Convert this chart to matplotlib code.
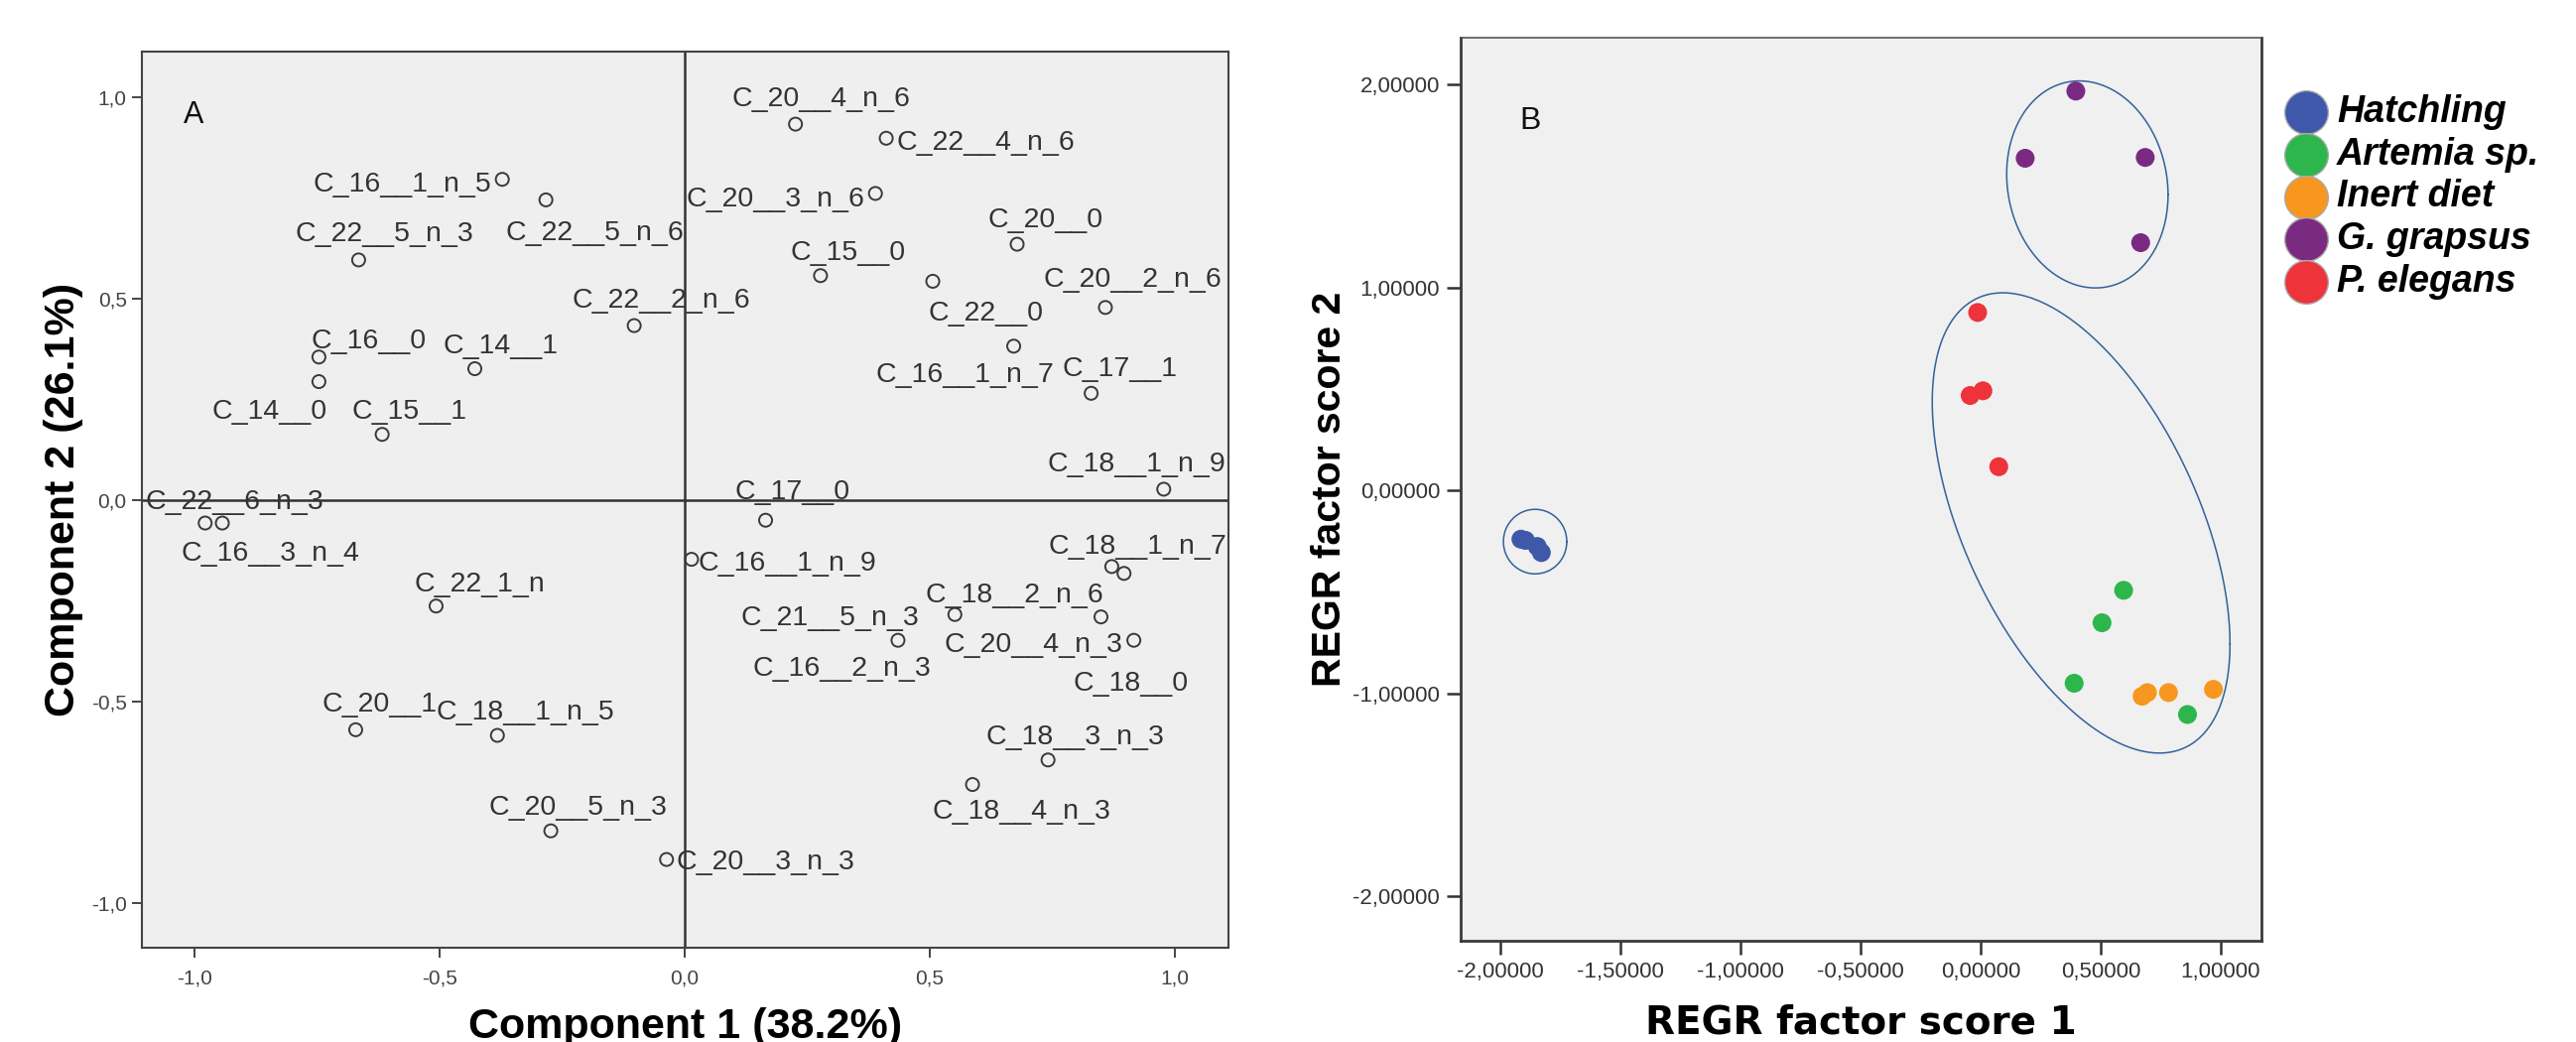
import numpy as np
import matplotlib
matplotlib.use("Agg")
import matplotlib.pyplot as plt
from matplotlib.ticker import FixedLocator, FuncFormatter
from matplotlib.font_manager import FontProperties

# ---- panel A: component loadings ----
names = ["C_16__1_n_5", "C_22__5_n_6", "C_22__5_n_3", "C_22__2_n_6", "C_16__0",
         "C_14__0", "C_14__1", "C_15__1", "C_22__6_n_3", "C_16__3_n_4",
         "C_22_1_n", "C_20__1", "C_18__1_n_5", "C_20__5_n_3", "C_20__3_n_3",
         "C_20__4_n_6", "C_22__4_n_6", "C_20__3_n_6", "C_20__0", "C_15__0",
         "C_22__0", "C_20__2_n_6", "C_16__1_n_7", "C_17__1", "C_18__1_n_9",
         "C_17__0", "C_16__1_n_9", "C_18__1_n_7", "C_16__2_n_3", "C_18__2_n_6",
         "C_20__4_n_3", "C_21__5_n_3", "C_18__0", "C_18__3_n_3", "C_18__4_n_3"]
comp1 = [-0.372, -0.283, -0.665, -0.103, -0.746, -0.746, -0.428, -0.617, -0.978, -0.943,
         -0.507, -0.671, -0.382, -0.273, -0.037, 0.226, 0.411, 0.389, 0.678, 0.277,
         0.506, 0.858, 0.671, 0.829, 0.977, 0.165, 0.014, 0.871, 0.551, 0.849,
         0.916, 0.435, 0.896, 0.741, 0.587]
comp2 = [0.796, 0.745, 0.596, 0.433, 0.355, 0.294, 0.326, 0.163, -0.057, -0.057,
         -0.263, -0.570, -0.584, -0.821, -0.892, 0.933, 0.898, 0.761, 0.635, 0.557,
         0.543, 0.478, 0.382, 0.265, 0.027, -0.050, -0.147, -0.165, -0.284, -0.290,
         -0.348, -0.348, -0.182, -0.645, -0.706]

# label placement (pixel offsets of the label baseline-left from its point)
lab_dx = [-191, -41, -64, -63, -8, -108, -32, -31, -60, -42,
          -22, -34, -62, -63, 10, -64, 10, -191, -30, -30,
          -5, -62, -139, -29, -117, -31, 7, -64, -204, -177,
          -191, -158, -51, -63, -41]
lab_dy = [-12, -41, 19, 18, 9, -37, 16, 16, 14, -38,
          15, 18, 16, 16, -10, 18, -12, -13, 17, 16,
          -40, 21, -36, 17, 18, 21, -11, 13, -62, 15,
          -12, 15, -118, 16, -34]

# ---- panel B: regression factor scores ----
groups = ["Hatchling", "Artemia sp.", "Inert diet", "G. grapsus", "P. elegans"]
hatch_x = [-1.914, -1.895, -1.846, -1.829]
hatch_y = [-0.241, -0.247, -0.277, -0.307]
artemia_x = [0.596, 0.506, 0.390, 0.862]
artemia_y = [-0.493, -0.653, -0.951, -1.105]
inert_x = [0.673, 0.695, 0.783, 0.970]
inert_y = [-1.015, -0.997, -0.997, -0.981]
grapsus_x = [0.397, 0.186, 0.686, 0.667]
grapsus_y = [1.967, 1.636, 1.640, 1.220]
elegans_x = [-0.012, -0.043, 0.010, 0.076]
elegans_y = [0.876, 0.467, 0.490, 0.116]
colors = ["#3f58aa", "#2db64b", "#f7971f", "#7b2a82", "#ee333a"]

# hand drawn cluster outlines: centre x, centre y, half width, half height, tilt corr
clusters = [(-1.855, -0.253, 0.132, 0.159, 0.0),
            (0.445, 1.507, 0.336, 0.510, -0.10),
            (0.419, -0.161, 0.620, 1.134, -0.526)]

W, H = 2596, 1050
fig = plt.figure(figsize=(W / 100, H / 100), dpi=100)
plt.rcParams['font.family'] = ['Liberation Sans', 'DejaVu Sans']

# ---------------- panel A ----------------
ax1 = fig.add_axes([143 / W, 1 - 955 / H, (1238 - 143) / W, (955 - 52) / H])
ax1.set_facecolor("#efefef")
ax1.set_xlim(-1.107, 1.109)
ax1.set_ylim(-1.111, 1.113)
ax1.axhline(0, color="#333333", lw=1.8, zorder=1)
ax1.axvline(0, color="#333333", lw=1.8, zorder=1)
ax1.scatter(comp1, comp2, s=9.4 ** 2, facecolors="none", edgecolors="#3a3a3a",
            linewidths=1.4, zorder=3)
for n, x, y, dx, dy in zip(names, comp1, comp2, lab_dx, lab_dy):
    ax1.annotate(n, (x, y), xytext=(dx, dy), textcoords="offset pixels",
                 ha="left", va="baseline", fontsize=20.5, color="#333333",
                 annotation_clip=False)

ticks = [-1.0, -0.5, 0.0, 0.5, 1.0]
ax1.xaxis.set_major_locator(FixedLocator(ticks))
ax1.yaxis.set_major_locator(FixedLocator(ticks))
fmt1 = FuncFormatter(lambda v, p: f"{v:.1f}".replace(".", ","))
ax1.xaxis.set_major_formatter(fmt1)
ax1.yaxis.set_major_formatter(fmt1)
ax1.tick_params(axis="both", direction="out", length=7.5, width=1.4,
                color="#444444", labelsize=15, labelcolor="#444444")
ax1.tick_params(axis="x", pad=8)
for sp in ax1.spines.values():
    sp.set_color("#444444")
    sp.set_linewidth(1.5)

ax1.set_xlabel("Component 1 (38.2%)", fontsize=31, fontweight="bold")
ax1.set_ylabel("Component 2 (26.1%)", fontsize=31, fontweight="bold")
ax1.xaxis.set_label_coords(0.5, (955 - 1015) / (955 - 52))
ax1.yaxis.set_label_coords((84 - 143) / (1238 - 143), 0.5)
ax1.text(0.0384, 0.9457, "A", transform=ax1.transAxes, ha="left", va="top",
         fontsize=22, color="#111111")

# ---------------- panel B ----------------
ax2 = fig.add_axes([1472 / W, 1 - 948 / H, (2279 - 1472) / W, (948 - 38) / H])
ax2.set_facecolor("#f0f0f0")
ax2.set_xlim(-2.165, 1.170)
ax2.set_ylim(-2.220, 2.230)

series = [(hatch_x, hatch_y), (artemia_x, artemia_y), (inert_x, inert_y),
          (grapsus_x, grapsus_y), (elegans_x, elegans_y)]
handles = []
for (xs, ys), c, g in zip(series, colors, groups):
    h = ax2.scatter(xs, ys, s=13.7 ** 2, color=c, edgecolors="none", zorder=3, label=g)
    handles.append(h)

t = np.linspace(0, 2 * np.pi, 400)
for cx, cy, rx, ry, rho in clusters:
    d = np.arccos(rho)
    ax2.plot(cx + rx * np.cos(t), cy + ry * np.cos(t + d), color="#33619b", lw=1.1, zorder=2)

ax2.xaxis.set_major_locator(FixedLocator([-2.0, -1.5, -1.0, -0.5, 0.0, 0.5, 1.0]))
ax2.yaxis.set_major_locator(FixedLocator([-2.0, -1.0, 0.0, 1.0, 2.0]))
fmt2 = FuncFormatter(lambda v, p: f"{v:.5f}".replace(".", ","))
ax2.xaxis.set_major_formatter(fmt2)
ax2.yaxis.set_major_formatter(fmt2)
ax2.tick_params(axis="both", direction="out", length=10, width=1.8,
                color="#333333", labelsize=16, labelcolor="#333333", pad=5)
for k, sp in ax2.spines.items():
    sp.set_color("#3a3a3a")
    sp.set_linewidth(2.0)
ax2.spines["top"].set_linewidth(1.2)
ax2.spines["top"].set_color("#555555")

ax2.set_xlabel("REGR factor score 1", fontsize=28, fontweight="bold", family="DejaVu Sans")
ax2.set_ylabel("REGR factor score 2", fontsize=29.5, fontweight="bold")
ax2.xaxis.set_label_coords(0.5, (948 - 1011) / (948 - 38))
ax2.yaxis.set_label_coords((1359 - 1472) / (2279 - 1472), 0.5)
ax2.text(0.0731, 0.924, "B", transform=ax2.transAxes, ha="left", va="top",
         fontsize=23, color="#111111")

leg = fig.legend(handles=handles, labels=groups, loc="upper left",
                 bbox_to_anchor=(2302 / W, 1 - 95 / H), frameon=False,
                 borderpad=0, borderaxespad=0, handlelength=1.16, handletextpad=0.26,
                 labelspacing=0.18, markerscale=2.3, scatterpoints=1,
                 prop=FontProperties(family="Liberation Sans", style="italic",
                                     weight="bold", size=27))
for lh in leg.legend_handles:
    lh.set_edgecolor("#aaaaaa")
    lh.set_linewidth(1.0)

fig.savefig("out.png", dpi=100)
